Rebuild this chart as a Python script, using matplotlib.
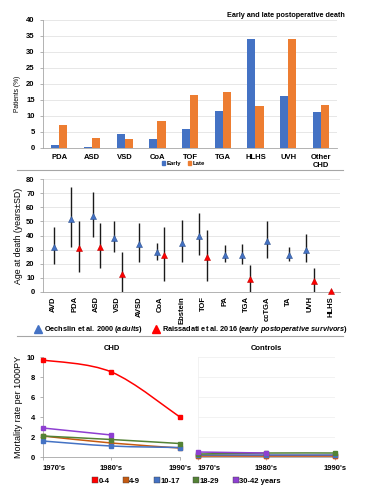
import numpy as np
import matplotlib
matplotlib.use("Agg")
import matplotlib.pyplot as plt
from matplotlib.lines import Line2D
from matplotlib.path import Path
from matplotlib.patches import PathPatch, Patch

plt.rcParams['font.family'] = ['Liberation Sans', 'DejaVu Sans']
plt.rcParams['font.weight'] = 'bold'
plt.rcParams['mathtext.fontset'] = 'custom'
plt.rcParams['mathtext.it'] = 'Liberation Sans:italic:bold'
plt.rcParams['mathtext.rm'] = 'Liberation Sans:bold'

# --- panel A: early and late postoperative death
defects = ['PDA', 'ASD', 'VSD', 'CoA', 'TOF', 'TGA', 'HLHS', 'UVH', 'Other\nCHD']
early = [0.9, 0.4, 4.5, 2.9, 5.8, 11.5, 34.0, 16.2, 11.4]
late = [7.1, 3.1, 2.7, 8.4, 16.5, 17.5, 13.1, 34.2, 13.3]

# --- panel B: age at death (mean, low, high)
age_cats = ['AVD', 'PDA', 'ASD', 'VSD', 'AVSD', 'CoA', 'Ebstein', 'TOF', 'PA',
            'TGA', 'ccTGA', 'TA', 'UVH', 'HLHS']
oech_cat = ['AVD', 'PDA', 'ASD', 'VSD', 'AVSD', 'CoA', 'Ebstein', 'TOF', 'PA',
            'TGA', 'ccTGA', 'TA', 'UVH']
oech_mean = [32, 52, 54, 38, 34, 28, 35, 40, 26, 26, 36, 26, 30]
oech_lo = [20, 32, 39, 28, 21, 23, 21, 26, 21, 20, 24, 22, 21]
oech_hi = [46, 74, 71, 50, 49, 35, 51, 56, 33, 34, 50, 32, 41]
rais_cat = ['PDA', 'ASD', 'VSD', 'CoA', 'TOF', 'TGA', 'UVH', 'HLHS']
rais_mean = [31, 32, 13, 26, 25, 9, 8, 0.8]
rais_lo = [14, 17, 0, 8, 8, 0, 0, 0.8]
rais_hi = [50, 49, 28, 46, 44, 19, 17, 0.8]

# --- panel C: mortality rate per 1000 PY
decades = ["1970's", "1980's", "1990's"]
groups = ['0-4', '4-9', '10-17', '18-29', '30-42 years']
chd_rates = [[9.7, 8.5, 4.0],
             [2.1, 1.4, 0.9],
             [1.6, 1.1, 0.95],
             [2.1, 1.75, 1.35],
             [2.9, 2.2]]
ctrl_rates = [[0.15, 0.15, 0.15],
              [0.1, 0.1, 0.1],
              [0.2, 0.2, 0.2],
              [0.3, 0.4, 0.4],
              [0.5, 0.4]]
group_colors = ['#ff0000', '#c55a11', '#4472c4', '#548235', '#8e3fd1']

BLUE = '#4472c4'
ORANGE = '#ed7d31'
GRID = '#e3e3e3'
SPINE = '#a6a6a6'
FS = 5.5

fig = plt.figure(figsize=(3.69, 4.91), dpi=100)


def style_axis(ax):
    for s in ['top', 'right']:
        ax.spines[s].set_visible(False)
    ax.spines['left'].set_color(SPINE)
    ax.spines['bottom'].set_color(SPINE)
    ax.spines['left'].set_linewidth(0.6)
    ax.spines['bottom'].set_linewidth(0.6)
    ax.tick_params(colors=SPINE, labelcolor='black', labelsize=FS, width=0.6, length=2.5)


# ---------------- panel A
ax1 = fig.add_axes([0.1165, 0.6986, 0.797, 0.2607])
x = np.arange(len(defects))
w = 0.25
ax1.bar(x - w / 2, early, w, color=BLUE, label='Early')
ax1.bar(x + w / 2, late, w, color=ORANGE, label='Late')
ax1.set_ylim(0, 40)
ax1.set_yticks(range(0, 41, 5))
ax1.set_xlim(-0.5, len(defects) - 0.5)
ax1.set_xticks(x)
ax1.set_xticklabels(defects, fontsize=FS, linespacing=1.2)
ax1.yaxis.grid(True, color=GRID, lw=0.6)
ax1.set_axisbelow(True)
style_axis(ax1)
ax1.tick_params(axis='x', length=0, pad=4)
ax1.set_ylabel('Patients (%)', fontsize=4.8, fontweight='normal', labelpad=2)
ax1.yaxis.set_label_coords(-0.075, 0.42)
fig.text(0.935, 0.969, 'Early and late postoperative death', fontsize=5.2, ha='right', va='center')
fig.legend(handles=[Patch(color=BLUE, label='Early'), Patch(color=ORANGE, label='Late')],
           loc='center', bbox_to_anchor=(0.497, 0.666), ncol=2, frameon=False,
           fontsize=4.3, handlelength=0.6, handleheight=0.6, handletextpad=0.3,
           columnspacing=1.0, borderpad=0)

# ---------------- panel B
ax2 = fig.add_axes([0.1165, 0.4053, 0.805, 0.2301])
pos = {c: i for i, c in enumerate(age_cats)}
off = 0.18
ox = [pos[c] - (off if c in rais_cat else 0) for c in oech_cat]
rx = [pos[c] + (off if c in oech_cat else 0) for c in rais_cat]
ax2.vlines(ox, oech_lo, oech_hi, color='#1a1a1a', lw=1.0, zorder=2)
ax2.vlines(rx, rais_lo, rais_hi, color='#1a1a1a', lw=1.0, zorder=2)
ax2.plot(ox, oech_mean, '^', color=BLUE, ms=4.5, mec='#2f528f', mew=0.4, ls='none', zorder=3)
ax2.plot(rx, rais_mean, '^', color='#ff0000', ms=4.5, mec='#c00000', mew=0.4, ls='none', zorder=3,
         clip_on=False)
ax2.set_ylim(0, 80)
ax2.set_yticks(range(0, 81, 10))
ax2.set_xlim(-0.5, len(age_cats) - 0.6)
ax2.set_xticks(range(len(age_cats)))
ax2.set_xticklabels(age_cats, rotation=90, fontsize=FS)
ax2.yaxis.grid(True, color=GRID, lw=0.6)
ax2.set_axisbelow(True)
style_axis(ax2)
ax2.tick_params(axis='x', length=0, pad=3)
ax2.set_ylabel('Age at death (years±SD)', fontsize=6.3, fontweight='normal', labelpad=2)
h_o = Line2D([], [], marker='^', color=BLUE, ls='none', ms=6)
h_r = Line2D([], [], marker='^', color='#ff0000', ls='none', ms=6)
fig.legend(handles=[h_o, h_r],
           labels=[r'Oechslin et al. 2000 $\it{(adults)}$',
                   r'Raissadati et al. 2016 $\it{(early\ postoperative\ survivors)}$'],
           loc='center', bbox_to_anchor=(0.518, 0.328), ncol=2, frameon=False,
           fontsize=5.3, handlelength=1.0, handletextpad=0.3, columnspacing=1.2, borderpad=0)


# ---------------- panel C
def smooth_line(ax, ys, color):
    pts = np.column_stack([np.arange(len(ys)), ys]).astype(float)
    verts = [pts[0]]
    codes = [Path.MOVETO]
    n = len(pts)
    for i in range(n - 1):
        p0 = pts[max(i - 1, 0)]
        p1 = pts[i]
        p2 = pts[i + 1]
        p3 = pts[min(i + 2, n - 1)]
        verts += [p1 + (p2 - p0) / 6, p2 - (p3 - p1) / 6, p2]
        codes += [Path.CURVE4] * 3
    ax.add_patch(PathPatch(Path(verts, codes), fc='none', ec=color, lw=1.1, zorder=2))
    ax.plot(pts[:, 0], pts[:, 1], 's', color=color, ms=3.5, mec=color, clip_on=False, zorder=3)


panels = [(0.1165, 'CHD', chd_rates), (0.5366, 'Controls', ctrl_rates)]
for k, (left, title, rates) in enumerate(panels):
    ax = fig.add_axes([left, 0.0692, 0.371, 0.2037])
    for ys, c in zip(rates, group_colors):
        smooth_line(ax, ys, c)
    ax.set_xlim(0, 2)
    ax.set_ylim(0, 10)
    ax.set_yticks(range(0, 11, 2))
    ax.set_xticks(range(len(decades)))
    ax.set_xticklabels(decades, fontsize=FS)
    ax.get_xticklabels()[0].set_ha('left')
    style_axis(ax)
    ax.tick_params(axis='x', direction='out', length=2.5, pad=3)
    ax.set_title(title, fontsize=FS, fontweight='bold', pad=5)
    if k == 0:
        ax.set_ylabel('Mortality rate per 1000PY', fontsize=6.5, fontweight='normal', labelpad=2)
    else:
        ax.yaxis.grid(True, color='#f0f0f0', lw=0.6)
        ax.set_axisbelow(True)
        ax.tick_params(axis='y', left=False, labelleft=False)
        ax.spines['left'].set_color('#f0f0f0')

hs = [Line2D([], [], marker='s', color=c, ls='none', ms=4, mec='#404040', mew=0.3) for c in group_colors]
fig.legend(handles=hs, labels=groups, loc='center', bbox_to_anchor=(0.506, 0.0204), ncol=5,
           frameon=False, fontsize=FS, handlelength=0.6, handletextpad=0.1, columnspacing=1.9,
           borderpad=0)

# separators between panels
for yy in [1 - 170 / 491, 1 - 336 / 491]:
    fig.add_artist(Line2D([0.045, 0.93], [yy, yy], transform=fig.transFigure,
                          color='#a6a6a6', lw=0.8))

fig.savefig('out.png', dpi=100)
